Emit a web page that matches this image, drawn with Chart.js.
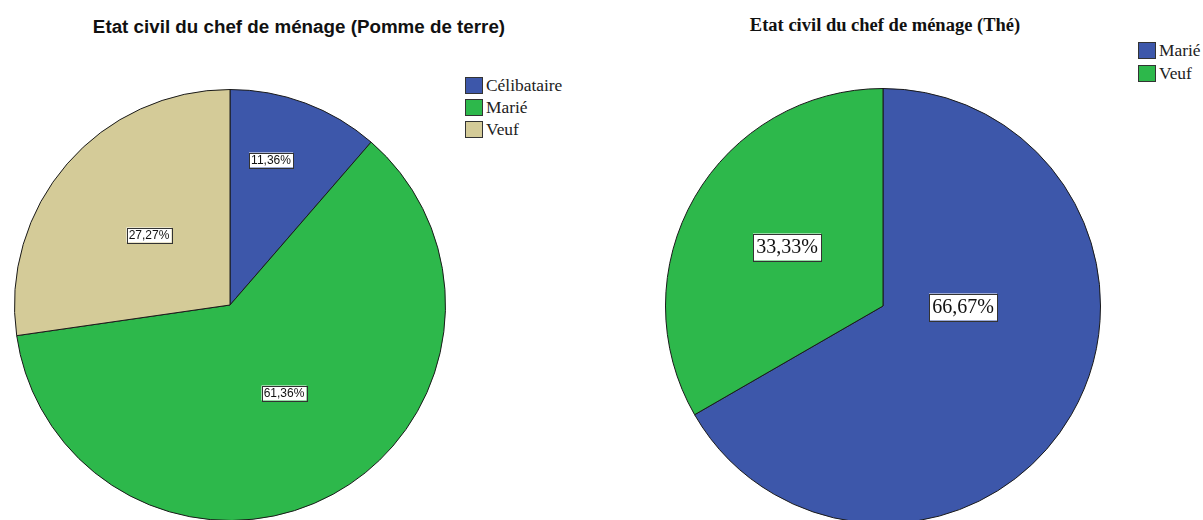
<!DOCTYPE html>
<html>
<head>
<meta charset="utf-8">
<script src="https://cdn.jsdelivr.net/npm/chart.js@4/dist/chart.umd.min.js"></script>
<style>
  html, body { margin: 0; padding: 0; background: #fff; width: 1203px; height: 520px; overflow: hidden; }
  .abs { position: absolute; }
  .title1 { font: bold 18.8px "Liberation Sans", Arial, sans-serif; color: #111; text-align: center; white-space: nowrap; line-height: 22px; }
  .title2 { font: bold 18.5px "Liberation Serif", "Times New Roman", serif; color: #111; text-align: center; white-space: nowrap; line-height: 22px; }
  .legend { font: 17.4px "Liberation Serif", "Times New Roman", serif; color: #222; }
  .legend .row { display: flex; align-items: center; white-space: nowrap; }
  .legend .sw { width: 16px; height: 15px; border: 1px solid #333; margin-right: 3px; flex: none; }
</style>
</head>
<body>
<div class="abs title1" style="left:0; width:598px; top:16px;">Etat civil du chef de ménage (Pomme de terre)</div>
<div class="abs title2" style="left:650px; width:470px; top:14px;">Etat civil du chef de ménage (Thé)</div>
<div id="legend1" class="abs legend" style="left:465px; top:74px;"></div>
<div id="legend2" class="abs legend" style="left:1138px; top:39px;"></div>
<div class="abs" style="left:14px; top:89px; width:432px; height:432px;"><canvas id="c1"></canvas></div>
<div class="abs" style="left:665px; top:88px; width:436px; height:436px;"><canvas id="c2"></canvas></div>
<script>
// ---- Data ----
const potatoCategories = ['Célibataire', 'Marié', 'Veuf'];
const potatoValues = [11.36, 61.36, 27.27];
const teaCategories = ['Marié', 'Veuf'];
const teaValues = [66.67, 33.33];

// ---- Styles ----
const BLUE = '#3d57aa', GREEN = '#2db84b', BEIGE = '#d4cb98';
const potatoColors = [BLUE, GREEN, BEIGE];
const teaColors = [BLUE, GREEN];

function fmt(v) { return v.toFixed(2).replace('.', ',') + '%'; }

function buildLegend(id, cats, colors, rowH) {
  const el = document.getElementById(id);
  cats.forEach((c, i) => {
    const row = document.createElement('div');
    row.className = 'row';
    row.style.height = rowH + 'px';
    const sw = document.createElement('div');
    sw.className = 'sw';
    sw.style.background = colors[i];
    const t = document.createElement('span');
    t.textContent = c;
    row.appendChild(sw); row.appendChild(t);
    el.appendChild(row);
  });
}
buildLegend('legend1', potatoCategories, potatoColors, 22);
buildLegend('legend2', teaCategories, teaColors, 23);

const boxLabels = {
  id: 'boxLabels',
  afterDatasetsDraw(chart, args, opts) {
    const ctx = chart.ctx;
    const meta = chart.getDatasetMeta(0);
    const values = chart.data.datasets[0].data;
    ctx.save();
    ctx.font = opts.font;
    ctx.textAlign = 'center';
    ctx.textBaseline = 'middle';
    meta.data.forEach((arc, i) => {
      const p = arc.getProps(['x', 'y', 'startAngle', 'endAngle', 'outerRadius'], true);
      const a = p.startAngle + (p.endAngle - p.startAngle) * opts.angleFrac[i];
      const r = p.outerRadius * opts.radiusFrac[i];
      const px = Math.round(p.x + Math.cos(a) * r);
      const py = Math.round(p.y + Math.sin(a) * r);
      const text = fmt(values[i]);
      const w = Math.round(ctx.measureText(text).width + 2 * opts.padX);
      const h = opts.boxH;
      ctx.fillStyle = '#fff';
      ctx.fillRect(px - w / 2, py - h / 2, w, h);
      ctx.strokeStyle = '#333';
      ctx.lineWidth = 1;
      ctx.strokeRect(Math.round(px - w / 2) + 0.5, Math.round(py - h / 2) + 0.5, w, h);
      ctx.fillStyle = '#111';
      ctx.fillText(text, px, py + opts.dy);
    });
    ctx.restore();
  }
};

function makePie(id, cats, vals, colors, labelOpts) {
  return new Chart(document.getElementById(id), {
    type: 'pie',
    data: {
      labels: cats,
      datasets: [{ data: vals, backgroundColor: colors, borderColor: '#1a1a1a', borderWidth: 1 }]
    },
    options: {
      responsive: true,
      maintainAspectRatio: false,
      animation: false,
      layout: { padding: 0 },
      plugins: {
        legend: { display: false },
        title: { display: false },
        tooltip: { enabled: false },
        boxLabels: labelOpts
      }
    },
    plugins: [boxLabels]
  });
}

makePie('c1', potatoCategories, potatoValues, potatoColors, {
  font: '12px "Liberation Sans", Arial, sans-serif',
  padX: 2, boxH: 15, dy: 1,
  angleFrac: [0.386, 0.488, 0.499],
  radiusFrac: [0.70, 0.48, 0.495]
});
makePie('c2', teaCategories, teaValues, teaColors, {
  font: '20px "Liberation Serif", "Times New Roman", serif',
  padX: 3, boxH: 27, dy: 1,
  angleFrac: [0.378, 0.513],
  radiusFrac: [0.367, 0.517]
});
</script>
</body>
</html>
